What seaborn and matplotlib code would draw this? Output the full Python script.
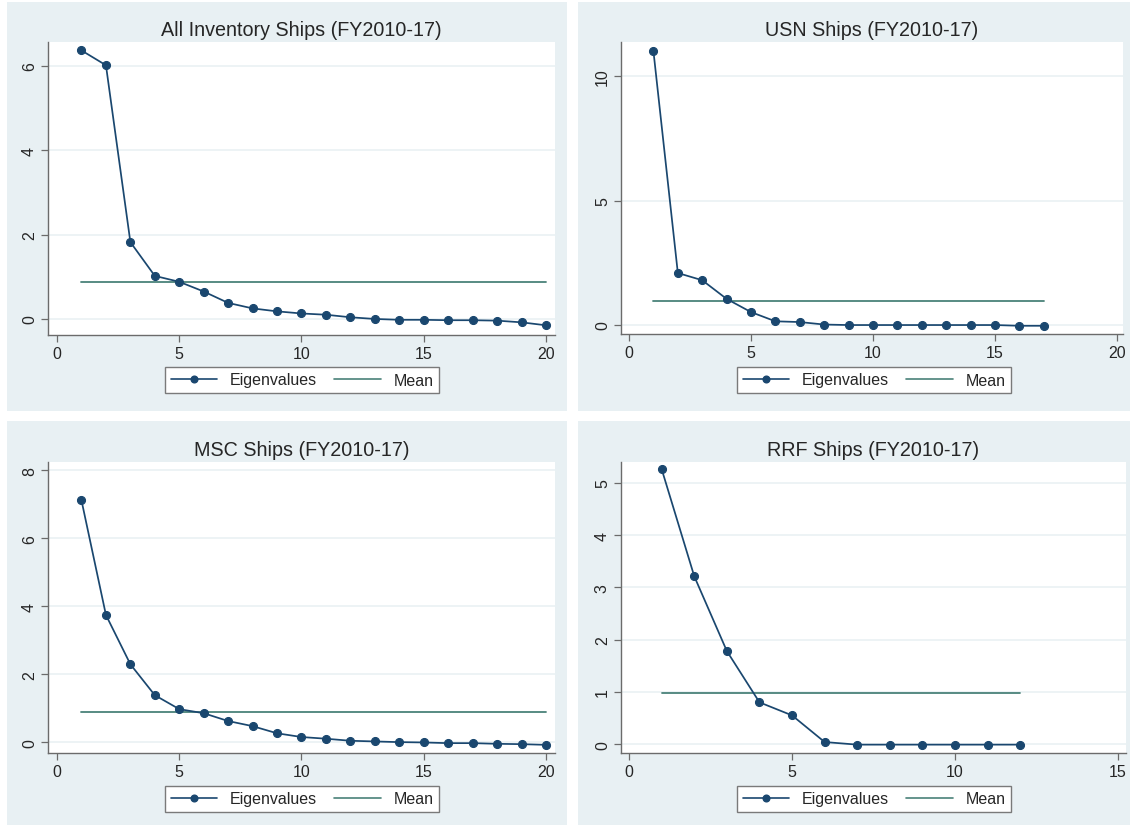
import matplotlib
matplotlib.use('Agg')
import matplotlib.pyplot as plt
import seaborn as sns
from matplotlib.lines import Line2D
from matplotlib.patches import Rectangle

# Scree plot data
titles = [
    'All Inventory Ships (FY2010-17)',
    'USN Ships (FY2010-17)',
    'MSC Ships (FY2010-17)',
    'RRF Ships (FY2010-17)',
]

eig_all = [6.36, 6.01, 1.82, 1.02, 0.88, 0.65, 0.38, 0.25, 0.18, 0.13,
           0.10, 0.04, 0.00, -0.02, -0.02, -0.03, -0.03, -0.04, -0.08, -0.15]
eig_usn = [11.0, 2.09, 1.80, 1.05, 0.52, 0.15, 0.12, 0.02, 0.00, 0.00,
           0.00, 0.00, 0.00, 0.00, 0.00, -0.03, -0.03]
eig_msc = [7.11, 3.74, 2.29, 1.38, 0.97, 0.85, 0.62, 0.47, 0.26, 0.15,
           0.10, 0.04, 0.02, 0.00, -0.01, -0.03, -0.03, -0.05, -0.06, -0.08]
eig_rrf = [5.26, 3.21, 1.78, 0.80, 0.55, 0.04, -0.01, -0.01, -0.01, -0.01,
           -0.01, -0.01]

mean_vals = [0.88, 0.98, 0.88, 0.97]

yticks = [[0, 2, 4, 6], [0, 5, 10], [0, 2, 4, 6, 8], [0, 1, 2, 3, 4, 5]]
xticks = [[0, 5, 10, 15, 20], [0, 5, 10, 15, 20], [0, 5, 10, 15, 20], [0, 5, 10, 15]]

# Layout in pixels (left, top, right, bottom) on a 1133x828 canvas
W, H = 1133, 828
panel_px = [(7, 3, 567, 412), (578, 3, 1130, 412), (7, 422, 567, 826), (578, 422, 1130, 826)]
axes_px = [(48, 43, 555, 336), (621, 43, 1123, 335), (48, 463, 555, 754), (621, 463, 1126, 754)]
xlims = [(-0.37, 20.37), (-0.33, 20.25), (-0.37, 20.37), (-0.25, 15.25)]
ylims = [(-0.38, 6.56), (-0.36, 11.37), (-0.32, 8.24), (-0.17, 5.40)]
legend_centers = [(302, 381), (874, 381), (302, 800), (874, 800)]

EIG_COLOR = '#1a476f'
MEAN_COLOR = '#4a8279'
BG = '#e8f0f3'
TEXT = '#262626'

sns.set_theme(style='white')
plt.rcParams['font.family'] = ['Liberation Sans', 'DejaVu Sans']

fig = plt.figure(figsize=(W / 100, H / 100), dpi=100)
fig.patch.set_facecolor('white')

series = [eig_all, eig_usn, eig_msc, eig_rrf]

for i, vals in enumerate(series):
    l, t, r, b = panel_px[i]
    fig.patches.append(Rectangle((l / W, 1 - b / H), (r - l) / W, (b - t) / H,
                                 transform=fig.transFigure, facecolor=BG,
                                 edgecolor='none', zorder=-5))

    l, t, r, b = axes_px[i]
    ax = fig.add_axes([l / W, 1 - b / H, (r - l) / W, (b - t) / H])
    ax.set_facecolor('white')

    n = len(vals)
    comps = list(range(1, n + 1))
    sns.lineplot(x=comps, y=vals, ax=ax, color=EIG_COLOR, marker='o',
                 markersize=5.8, markeredgecolor=EIG_COLOR, linewidth=1.25, zorder=3)
    sns.lineplot(x=[1, n], y=[mean_vals[i], mean_vals[i]], ax=ax,
                 color=MEAN_COLOR, linewidth=1.3, zorder=2)

    ax.set_xlim(*xlims[i])
    ax.set_ylim(*ylims[i])
    ax.set_xticks(xticks[i])
    ax.set_yticks(yticks[i])
    ax.set_yticklabels([str(v) for v in yticks[i]], rotation=90, va='center')
    ax.yaxis.grid(True, color='#eaf1f3', linewidth=1.2)
    ax.set_axisbelow(True)
    ax.tick_params(axis='both', which='major', direction='out', length=5,
                   width=0.9, color='#6b6b6b', labelsize=11.5, labelcolor=TEXT,
                   bottom=True, left=True, pad=3)
    for side in ['top', 'right']:
        ax.spines[side].set_visible(False)
    for side in ['left', 'bottom']:
        ax.spines[side].set_color('#6b6b6b')
        ax.spines[side].set_linewidth(1.0)
    ax.set_title(titles[i], fontsize=14.2, color=TEXT, pad=5)

    handles = [
        Line2D([], [], color=EIG_COLOR, marker='o', markersize=4.8, linewidth=1.2),
        Line2D([], [], color=MEAN_COLOR, linewidth=1.2),
    ]
    cx, cy = legend_centers[i]
    leg = fig.legend(handles, ['Eigenvalues', 'Mean'], loc='center',
                     bbox_to_anchor=(cx / W, 1 - cy / H), ncol=2, fontsize=11.5,
                     frameon=True, fancybox=False, framealpha=1.0, handlelength=2.9,
                     columnspacing=1.1, handletextpad=0.8, borderpad=0.35,
                     numpoints=1)
    leg.get_frame().set_edgecolor('#7a7a7a')
    leg.get_frame().set_linewidth(1.0)
    leg.get_frame().set_facecolor('white')
    for txt in leg.get_texts():
        txt.set_color(TEXT)

fig.savefig('out.png', dpi=100)
